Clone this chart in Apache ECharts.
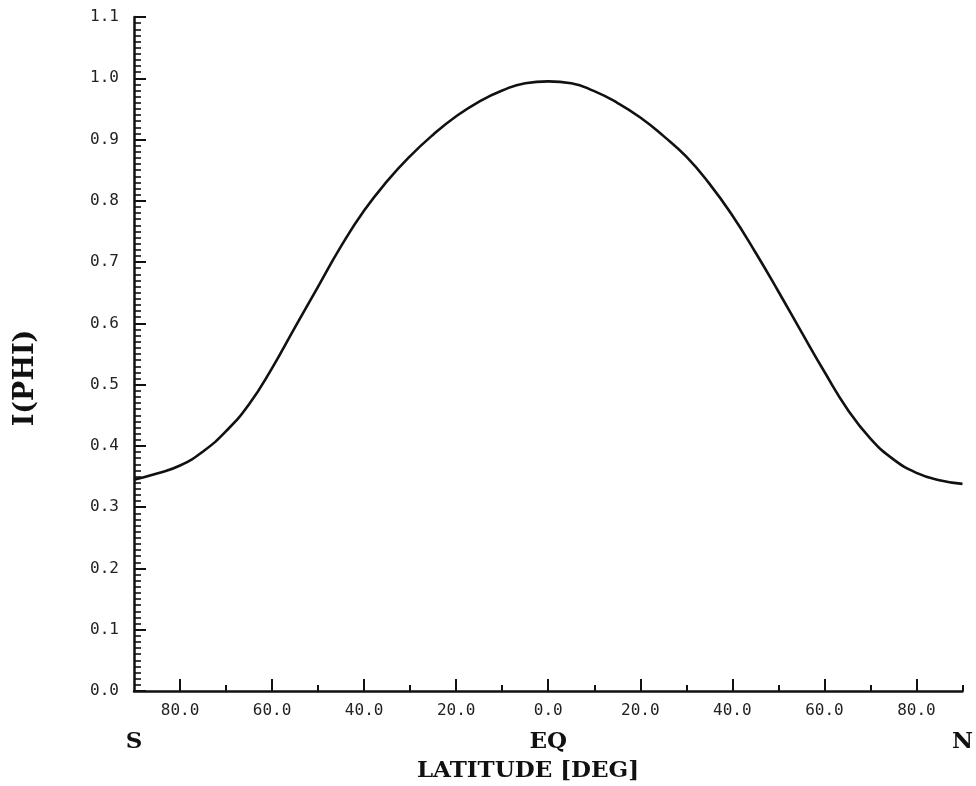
<!DOCTYPE html>
<html>
<head>
<meta charset="utf-8">
<script src="https://cdn.jsdelivr.net/npm/echarts@6/dist/echarts.min.js"></script>
<style>
  html, body { margin: 0; padding: 0; background: #ffffff; }
  #chart { width: 976px; height: 786px; }
</style>
</head>
<body>
<div id="chart"></div>
<script>
// Latitude in degrees (negative = south)
const latitude = [-90, -85, -80, -75, -70, -65, -60, -55, -50, -45, -40, -35, -30, -25, -20, -15, -10, -5,
                  0, 5, 10, 15, 20, 25, 30, 35, 40, 45, 50, 55, 60, 65, 70, 75, 80, 85, 90];
// I(PHI) values
const intensity = [0.345, 0.355, 0.368, 0.391, 0.424, 0.468, 0.527, 0.594, 0.660, 0.726, 0.784, 0.832, 0.873, 0.908, 0.938, 0.962, 0.980, 0.992,
                   0.995, 0.992, 0.979, 0.960, 0.936, 0.906, 0.872, 0.828, 0.776, 0.716, 0.652, 0.586, 0.521, 0.460, 0.412, 0.378, 0.356, 0.344, 0.338];

const xMajorTicks = [-80, -60, -40, -20, 0, 20, 40, 60, 80];
const xMinorTicks = [-70, -50, -30, -10, 10, 30, 50, 70, 90];
const hemiValues = [-90, 0, 90];
const hemiLabels = ['S', 'EQ', 'N'];
const xTitle = 'LATITUDE [DEG]';
const yTitle = 'I(PHI)';

const seriesData = latitude.map((v, i) => [v, intensity[i]]);

const tickFont = { fontFamily: 'DejaVu Sans Mono', fontSize: 16, color: '#222' };

const chart = echarts.init(document.getElementById('chart'), null, { renderer: 'canvas' });
chart.setOption({
  animation: false,
  backgroundColor: '#ffffff',
  grid: { left: 134, right: 8, top: 17, bottom: 95, containLabel: false },
  xAxis: [
    {
      type: 'value', min: -90, max: 90, position: 'bottom',
      axisLine: { show: true, onZero: false, lineStyle: { color: '#111', width: 2.5 } },
      axisTick: { show: true, inside: true, length: 12, customValues: xMajorTicks, lineStyle: { color: '#111', width: 2 } },
      axisLabel: Object.assign({
        show: true, margin: 12, customValues: xMajorTicks,
        formatter: v => Math.abs(v).toFixed(1)
      }, tickFont),
      splitLine: { show: false }
    },
    {
      type: 'value', min: -90, max: 90, position: 'bottom',
      axisLine: { show: false, onZero: false },
      axisTick: { show: true, inside: true, length: 6, customValues: xMinorTicks, lineStyle: { color: '#111', width: 2 } },
      axisLabel: { show: false },
      splitLine: { show: false }
    },
    {
      type: 'value', min: -90, max: 90, position: 'bottom',
      axisLine: { show: false, onZero: false },
      axisTick: { show: false },
      axisLabel: {
        show: true, margin: 40, customValues: hemiValues, hideOverlap: false,
        fontFamily: 'DejaVu Serif', fontWeight: 'bold', fontSize: 23, color: '#111',
        formatter: v => hemiLabels[hemiValues.indexOf(v)]
      },
      splitLine: { show: false }
    }
  ],
  yAxis: [
    {
      type: 'value', min: 0, max: 1.1, interval: 0.1, position: 'left',
      axisLine: { show: true, onZero: false, lineStyle: { color: '#111', width: 2.5 } },
      axisTick: { show: true, inside: true, length: 12, lineStyle: { color: '#111', width: 2 } },
      minorTick: { show: true, splitNumber: 10, length: 7, lineStyle: { color: '#111', width: 1.6 } },
      axisLabel: Object.assign({ margin: 15, formatter: v => v.toFixed(1) }, tickFont),
      splitLine: { show: false },
      minorSplitLine: { show: false }
    }
  ],
  graphic: [
    {
      type: 'text', x: 528, y: 771,
      style: { text: xTitle, font: 'bold 23px "DejaVu Serif"', fill: '#111', align: 'center', verticalAlign: 'middle' }
    },
    {
      type: 'text', x: 26, y: 378, rotation: Math.PI / 2,
      style: { text: yTitle, font: 'bold 27px "DejaVu Serif"', fill: '#111', align: 'center', verticalAlign: 'middle' }
    }
  ],
  series: [
    {
      type: 'line', xAxisIndex: 0, yAxisIndex: 0,
      data: seriesData, smooth: 0.5, showSymbol: false, symbol: 'none',
      lineStyle: { color: '#111', width: 2.6 }
    }
  ]
});
</script>
</body>
</html>
